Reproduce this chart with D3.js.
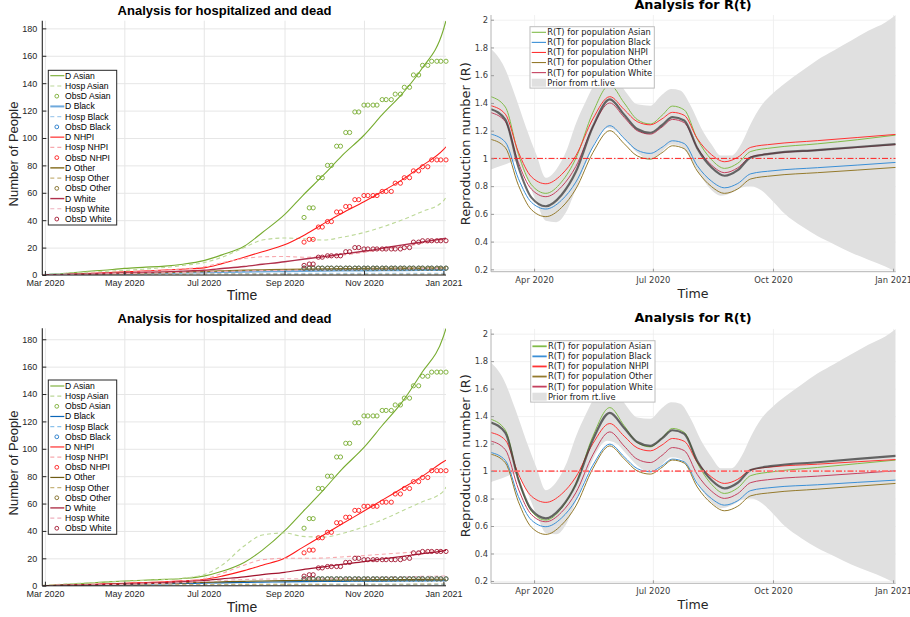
<!DOCTYPE html>
<html>
<head>
<meta charset="utf-8">
<script src="https://cdn.jsdelivr.net/npm/d3@7/dist/d3.min.js"></script>
<style>
  body { margin: 0; background: #fff; }
  svg { display: block; }
  .grid line { stroke: #e6e6e6; stroke-width: 1; }
  .grid path { display: none; }
  .gridR line { stroke: #eeeeee; stroke-width: 0.8; }
  .gridR path { display: none; }
</style>
</head>
<body>
<svg id="chart" width="910" height="617"></svg>
<script>
var startDay = "2020-02-28", endDay = "2021-01-03";

// ---- hospitalized / dead panels ----
var hospDates = ["2020-02-28","2020-03-15","2020-04-01","2020-04-15","2020-05-01","2020-05-15",
  "2020-06-01","2020-06-15","2020-07-01","2020-07-15","2020-08-01","2020-08-15","2020-09-01",
  "2020-09-15","2020-10-01","2020-10-15","2020-11-01","2020-11-15","2020-12-01","2020-12-15",
  "2021-01-01","2021-01-03"];
var hospTicks = ["2020-03-01","2020-05-01","2020-07-01","2020-09-01","2020-11-01","2021-01-01"];
var hospYTicks = [0, 20, 40, 60, 80, 100, 120, 140, 160, 180];

var dAsianTop    = [0, 1, 2.5, 3.5, 4.8, 5.6, 6.5, 7.9, 10.5, 14.7, 21, 31, 44, 58, 73, 87, 102, 117, 133, 150, 179, 185.6];
var hospAsianTop = [0.3, 1.2, 2, 2.6, 3.3, 4.2, 5.5, 7, 9, 13, 20, 25.5, 27, 26.5, 25.5, 27.5, 31, 35, 40.5, 46, 54, 57];
var dBlackTop    = [0, 0.2, 0.4, 0.6, 0.9, 1.1, 1.4, 1.6, 1.9, 2.1, 2.4, 2.6, 2.8, 2.95, 3.1, 3.2, 3.3, 3.4, 3.5, 3.6, 3.7, 3.7];
var hospBlackTop = [0.1, 0.25, 0.4, 0.55, 0.7, 0.8, 0.9, 1, 1.1, 1.15, 1.2, 1.2, 1.2, 1.2, 1.2, 1.2, 1.2, 1.2, 1.2, 1.2, 1.2, 1.2];
var dNhpiTop     = [0, 0.4, 1, 1.6, 2.3, 2.9, 3.6, 4.3, 5.2, 8.3, 13, 17, 22, 28.5, 37.5, 45, 53.5, 61, 70, 79.3, 91.5, 93.6];
var hospNhpiTop  = [0.2, 0.5, 1, 1.4, 2, 2.6, 3.5, 4.5, 6, 9, 12, 13.3, 13.5, 13, 13.2, 14.5, 16.5, 18.5, 20.5, 23, 25.5, 26];
var dOtherTop    = [0, 0.25, 0.5, 0.8, 1.2, 1.5, 1.9, 2.2, 2.6, 3, 3.4, 3.7, 4, 4.2, 4.4, 4.55, 4.7, 4.8, 4.9, 5, 5.1, 5.1];
var hospOtherTop = [0.1, 0.2, 0.3, 0.4, 0.5, 0.55, 0.6, 0.65, 0.7, 0.7, 0.7, 0.65, 0.6, 0.6, 0.6, 0.6, 0.6, 0.6, 0.6, 0.6, 0.6, 0.6];
var dWhiteTop    = [0, 0.3, 0.7, 1.1, 1.5, 1.9, 2.3, 2.8, 3.5, 4.7, 6.2, 7.8, 9.7, 11.5, 13.4, 15.2, 17.3, 19.5, 22, 24, 26.5, 26.8];
var hospWhiteTop = [0.1, 0.3, 0.6, 0.8, 1.1, 1.3, 1.6, 1.9, 2.2, 2.6, 2.9, 3.2, 3.4, 3.6, 3.7, 3.85, 4, 4.2, 4.4, 4.7, 4.9, 5];

var dAsianBot    = [0, 0.8, 1.8, 2.6, 3.4, 4, 4.6, 5.3, 7, 10.5, 17, 26, 40, 54, 70, 85, 101, 117, 135, 155, 182, 188];
var hospAsianBot = [0.3, 1.2, 2, 2.6, 3.2, 3.8, 4.5, 5.5, 8, 15, 29, 37, 38.5, 36, 35.5, 38, 43, 48, 55, 61, 69, 72];
var dBlackBot    = [0, 0.2, 0.4, 0.6, 0.9, 1.1, 1.4, 1.6, 1.9, 2.1, 2.4, 2.6, 2.8, 2.95, 3.1, 3.2, 3.3, 3.4, 3.5, 3.55, 3.6, 3.6];
var hospBlackBot = [0.1, 0.25, 0.4, 0.55, 0.7, 0.85, 1, 1.05, 1.1, 1.1, 1.1, 1.05, 1, 1, 1, 1, 1, 1, 1, 1, 1, 1];
var dNhpiBot     = [0, 0.35, 0.8, 1.3, 1.8, 2.3, 2.8, 3.5, 4.5, 7, 11, 15, 20, 28, 37, 45, 54.5, 62.5, 71.5, 79.5, 90.5, 91.7];
var hospNhpiBot  = [0.2, 0.5, 0.8, 1.1, 1.5, 2, 2.5, 3.5, 5, 9, 15, 19, 20, 20, 20.2, 21, 22, 23, 24, 25, 25.8, 26];
var dOtherBot    = [0, 0.25, 0.5, 0.8, 1.1, 1.4, 1.8, 2.1, 2.5, 2.85, 3.2, 3.45, 3.7, 3.85, 4, 4.15, 4.3, 4.4, 4.5, 4.6, 4.7, 4.7];
var hospOtherBot = [0.1, 0.2, 0.3, 0.4, 0.5, 0.6, 0.7, 0.8, 0.9, 0.95, 1, 1, 1, 1, 1, 1.05, 1.1, 1.1, 1.1, 1.15, 1.2, 1.2];
var dWhiteBot    = [0, 0.3, 0.6, 0.95, 1.3, 1.7, 2.2, 2.9, 3.8, 5, 6.5, 8.1, 9.8, 11.8, 13.8, 15.6, 17.6, 19.5, 21.5, 23.3, 25.5, 25.8];
var hospWhiteBot = [0.1, 0.3, 0.5, 0.75, 1, 1.4, 1.8, 2.3, 3, 3.8, 4.5, 4.8, 5, 5.15, 5.3, 5.5, 5.8, 6.1, 6.4, 6.8, 7.1, 7.2];

// observed deaths (same in both runs)
var obsDates = ["2020-09-16","2020-09-20","2020-09-23","2020-09-27","2020-09-30","2020-10-04",
  "2020-10-07","2020-10-11","2020-10-14","2020-10-18","2020-10-21","2020-10-25","2020-10-28",
  "2020-11-01","2020-11-04","2020-11-08","2020-11-11","2020-11-15","2020-11-18","2020-11-22",
  "2020-11-25","2020-11-29","2020-12-02","2020-12-06","2020-12-09","2020-12-13","2020-12-16",
  "2020-12-20","2020-12-23","2020-12-27","2020-12-30","2021-01-03"];
var obsAsian = [42,49,49,71,71,80,80,94,94,104,104,119,119,124,124,124,124,128,128,128,132,132,137,137,146,146,153,153,156,156,156,156];
var obsBlack = [5,5,5,5,5,5,5,5,5,5,5,5,5,5,5,5,5,5,5,5,5,5,5,5,5,5,5,5,5,5,5,5];
var obsNhpi  = [24,26,26,35,35,39,39,46,46,50,50,55,55,58,58,58,58,61,61,61,67,67,71,71,76,76,79,79,84,84,84,84];
var obsOther = [5,5,5,5,5,5,5,5,5,5,5,5,5,5,5,5,5,5,5,5,5,5,5,5,5,5,5,5,5,5,5,5];
var obsWhite = [7,8,8,13,13,14,14,14,14,17,17,20,20,19,19,19,19,19,19,19,19,19,20,20,24,24,25,25,25,25,25,25];

// ---- R(t) panels ----
var rtDates = ["2020-02-28","2020-03-10","2020-03-20","2020-03-30","2020-04-10","2020-04-22",
  "2020-05-03","2020-05-16","2020-05-29","2020-06-09","2020-06-19","2020-06-29","2020-07-08",
  "2020-07-16","2020-07-25","2020-08-04","2020-08-15","2020-08-25","2020-09-04","2020-09-14",
  "2020-10-01","2020-11-04","2020-12-05","2021-01-03"];
var rtTicks = ["2020-04-01","2020-07-01","2020-10-01","2021-01-01"];
var rtYTicks = [0.2, 0.4, 0.6, 0.8, 1, 1.2, 1.4, 1.6, 1.8, 2];

var rtAsianTop = [1.445,1.37,1.03,0.81,0.748,0.83,1.0,1.33,1.53,1.40,1.28,1.248,1.31,1.377,1.35,1.14,0.99,0.928,0.965,1.05,1.077,1.105,1.135,1.168];
var rtBlackTop = [1.175,1.117,0.854,0.683,0.635,0.698,0.829,1.082,1.236,1.144,1.059,1.036,1.08,1.127,1.107,0.947,0.835,0.788,0.819,0.889,0.911,0.933,0.952,0.971];
var rtNhpiTop  = [1.38,1.319,1.045,0.867,0.817,0.883,1.019,1.284,1.445,1.352,1.265,1.242,1.285,1.332,1.311,1.143,1.026,0.976,1.008,1.08,1.103,1.128,1.151,1.173];
var rtOtherTop = [1.137,1.077,0.806,0.63,0.58,0.645,0.78,1.041,1.20,1.106,1.018,0.995,1.041,1.091,1.07,0.909,0.796,0.748,0.78,0.852,0.875,0.897,0.916,0.935];
var rtWhiteTop = [1.33,1.265,0.969,0.778,0.724,0.795,0.942,1.227,1.40,1.296,1.20,1.175,1.226,1.281,1.258,1.077,0.951,0.897,0.932,1.011,1.036,1.059,1.08,1.10];
var rtMeanTop  = [1.355,1.279,0.938,0.717,0.655,0.736,0.903,1.228,1.425,1.315,1.212,1.185,1.239,1.298,1.273,1.074,0.934,0.875,0.915,1.007,1.036,1.06,1.082,1.103];

var rtAsianBot = [1.377,1.298,0.94,0.708,0.643,0.729,0.907,1.252,1.462,1.33,1.208,1.176,1.24,1.31,1.282,1.06,0.903,0.837,0.877,0.967,0.995,1.026,1.054,1.08];
var rtBlackBot = [1.135,1.077,0.814,0.643,0.595,0.658,0.789,1.042,1.196,1.104,1.018,0.995,1.039,1.087,1.067,0.909,0.799,0.752,0.784,0.858,0.881,0.90,0.918,0.934];
var rtNhpiBot  = [1.28,1.225,0.978,0.817,0.772,0.832,0.957,1.199,1.346,1.254,1.169,1.147,1.19,1.237,1.217,1.064,0.956,0.91,0.94,1.009,1.031,1.05,1.068,1.084];
var rtOtherBot = [1.123,1.06,0.776,0.591,0.539,0.607,0.746,1.018,1.183,1.089,1.001,0.978,1.027,1.08,1.058,0.884,0.763,0.711,0.744,0.82,0.844,0.868,0.89,0.91];
var rtWhiteBot = [1.218,1.155,0.869,0.683,0.631,0.70,0.842,1.118,1.285,1.182,1.087,1.062,1.114,1.171,1.149,0.975,0.853,0.801,0.836,0.916,0.941,0.963,0.983,1.002];
var rtMeanBot  = [1.353,1.278,0.938,0.718,0.656,0.737,0.903,1.227,1.423,1.313,1.211,1.184,1.238,1.297,1.272,1.073,0.933,0.874,0.915,1.008,1.038,1.064,1.088,1.111];

// prior band from rt.live
var bandDates = ["2020-02-28","2020-03-08","2020-03-18","2020-03-26","2020-04-03","2020-04-10",
  "2020-04-18","2020-04-26","2020-05-03","2020-05-11","2020-05-19","2020-05-27","2020-06-03",
  "2020-06-11","2020-06-19","2020-06-29","2020-07-07","2020-07-15","2020-07-22","2020-07-30",
  "2020-08-07","2020-08-15","2020-08-22","2020-08-30","2020-09-07","2020-09-14","2020-09-22",
  "2020-10-01","2020-10-10","2020-10-23","2020-11-04","2020-11-17","2020-11-30","2020-12-13",
  "2020-12-26","2021-01-03"];
var bandUpper = [1.79,1.68,1.44,1.22,1.02,0.86,0.92,1.06,1.25,1.42,1.56,1.62,1.58,1.47,1.39,1.38,1.45,1.50,1.49,1.38,1.22,1.10,1.02,1.02,1.11,1.25,1.38,1.47,1.54,1.63,1.71,1.78,1.85,1.92,1.98,2.034];
var bandLower = [0.92,0.95,0.98,0.86,0.68,0.55,0.54,0.62,0.78,0.97,1.14,1.22,1.20,1.12,1.04,0.99,1.04,1.10,1.09,1.00,0.87,0.77,0.73,0.75,0.79,0.80,0.77,0.69,0.60,0.51,0.44,0.38,0.32,0.27,0.22,0.183];

var parseDay = d3.utcParse("%Y-%m-%d");
var svg = d3.select("#chart");
var clipCount = 0;
var fontL = "'Liberation Sans', Arial, Helvetica, sans-serif";
var fontR = "'DejaVu Sans', Verdana, sans-serif";

function makeClip(x0, y0, w, h) {
  var id = "clip" + (clipCount++);
  svg.append("clipPath").attr("id", id)
    .append("rect").attr("x", x0).attr("y", y0).attr("width", w).attr("height", h);
  return "url(#" + id + ")";
}

function drawHosp(p) {
  var x = d3.scaleUtc().domain([parseDay(startDay), parseDay(endDay)]).range([p.left, p.right]);
  var yMax = d3.max(p.series, function (s) { return d3.max(s.values); });
  var y = d3.scaleLinear().domain([0, yMax]).range([p.bottom, p.top]);
  var dates = hospDates.map(parseDay);
  var oDates = obsDates.map(parseDay);
  var g = svg.append("g");

  g.append("g").attr("class", "grid")
    .attr("transform", "translate(0," + p.bottom + ")")
    .call(d3.axisBottom(x).tickValues(hospTicks.map(parseDay)).tickSize(-(p.bottom - p.top)).tickFormat(""));
  g.append("g").attr("class", "grid")
    .attr("transform", "translate(" + p.left + ",0)")
    .call(d3.axisLeft(y).tickValues(hospYTicks).tickSize(-(p.right - p.left)).tickFormat(""));

  var plot = g.append("g").attr("clip-path", makeClip(p.left, p.top, p.right - p.left, p.bottom - p.top));
  var line = d3.line().curve(d3.curveMonotoneX)
    .x(function (d) { return x(d[0]); })
    .y(function (d) { return y(d[1]); });

  p.series.forEach(function (s) {
    if (s.kind === "obs") {
      g.append("g").selectAll("circle")
        .data(d3.zip(oDates, s.values))
        .enter().append("circle")
        .attr("cx", function (d) { return x(d[0]); })
        .attr("cy", function (d) { return y(d[1]); })
        .attr("r", 2.1)
        .attr("fill", "none")
        .attr("stroke", s.color)
        .attr("stroke-width", 0.9);
    } else {
      plot.append("path")
        .datum(d3.zip(dates, s.values))
        .attr("d", line)
        .attr("fill", "none")
        .attr("stroke", s.color)
        .attr("stroke-width", s.width)
        .attr("stroke-dasharray", s.kind === "dash" ? "4,3" : null);
    }
  });

  // axes
  var xAxisG = g.append("g")
    .attr("transform", "translate(0," + p.bottom + ")")
    .call(d3.axisBottom(x).tickValues(hospTicks.map(parseDay)).tickFormat(d3.utcFormat("%b %Y"))
      .tickSizeInner(-4).tickSizeOuter(0).tickPadding(5));
  var yAxisG = g.append("g")
    .attr("transform", "translate(" + p.left + ",0)")
    .call(d3.axisLeft(y).tickValues(hospYTicks).tickSizeInner(-4).tickSizeOuter(0).tickPadding(5));
  [xAxisG, yAxisG].forEach(function (a) {
    a.attr("font-family", fontL).attr("font-size", 9).style("color", "#262626");
    a.select(".domain").attr("stroke-width", 1.1);
  });
  xAxisG.select(".domain").attr("d", "M" + p.left + ",0H" + p.right);
  yAxisG.select(".domain").attr("d", "M0," + p.bottom + "V" + p.top);

  g.append("text").attr("x", 224.5).attr("y", p.titleY)
    .attr("text-anchor", "middle").attr("font-family", fontL).attr("font-weight", "bold")
    .attr("font-size", 13).attr("fill", "#000").text("Analysis for hospitalized and dead");
  g.append("text").attr("x", 242).attr("y", p.timeY)
    .attr("text-anchor", "middle").attr("font-family", fontL).attr("font-size", 14)
    .attr("fill", "#262626").text("Time");
  g.append("text").attr("transform", "translate(18," + p.yLabelY + ") rotate(-90)")
    .attr("text-anchor", "middle").attr("font-family", fontL).attr("font-size", 13)
    .attr("fill", "#262626").text("Number of People");

  // legend
  var lg = g.append("g");
  lg.append("rect").attr("x", p.legX).attr("y", p.legY).attr("width", 68.4).attr("height", p.legH)
    .attr("fill", "#fff").attr("stroke", "#262626").attr("stroke-width", 1);
  p.series.forEach(function (s, i) {
    var cy = p.legY + p.legOff + i * p.legStep;
    if (s.kind === "obs") {
      lg.append("circle").attr("cx", p.legX + 8.5).attr("cy", cy).attr("r", 1.9)
        .attr("fill", "none").attr("stroke", s.color).attr("stroke-width", 0.9);
    } else {
      lg.append("line").attr("x1", p.legX + 2).attr("x2", p.legX + 16).attr("y1", cy).attr("y2", cy)
        .attr("stroke", s.color).attr("stroke-width", s.width)
        .attr("stroke-dasharray", s.kind === "dash" ? "4,3" : null);
    }
    lg.append("text").attr("x", p.legX + 16.8).attr("y", cy).attr("dy", "0.35em")
      .attr("font-family", fontL).attr("font-size", 8.6).attr("fill", "#000").text(s.label);
  });
}

function drawRt(p) {
  var x = d3.scaleUtc().domain([parseDay(startDay), parseDay(endDay)]).range([p.left, p.right]);
  var y = d3.scaleLinear()
    .domain([d3.min(bandLower), d3.max(bandUpper)])
    .range([p.bottom, p.top]);
  var dates = rtDates.map(parseDay);
  var bDates = bandDates.map(parseDay);
  var g = svg.append("g");

  g.append("g").attr("class", "gridR")
    .attr("transform", "translate(0," + p.bottom + ")")
    .call(d3.axisBottom(x).tickValues(rtTicks.map(parseDay)).tickSize(-(p.bottom - p.top)).tickFormat(""));
  g.append("g").attr("class", "gridR")
    .attr("transform", "translate(" + p.left + ",0)")
    .call(d3.axisLeft(y).tickValues(rtYTicks).tickSize(-(p.right - p.left)).tickFormat(""));

  var plot = g.append("g").attr("clip-path", makeClip(p.left, p.top, p.right - p.left, p.bottom - p.top));
  var area = d3.area().curve(d3.curveMonotoneX)
    .x(function (d) { return x(d[0]); })
    .y0(function (d) { return y(d[1]); })
    .y1(function (d) { return y(d[2]); });
  plot.append("path")
    .datum(d3.zip(bDates, bandLower, bandUpper))
    .attr("d", area)
    .attr("fill", "#e0e0e0");

  var line = d3.line().curve(d3.curveMonotoneX)
    .x(function (d) { return x(d[0]); })
    .y(function (d) { return y(d[1]); });
  p.series.forEach(function (s) {
    plot.append("path")
      .datum(d3.zip(dates, s.values))
      .attr("d", line)
      .attr("fill", "none")
      .attr("stroke", s.color)
      .attr("stroke-width", s.width)
      .attr("stroke-opacity", s.opacity || 1);
  });

  plot.append("line")
    .attr("x1", p.left).attr("x2", p.right)
    .attr("y1", y(1)).attr("y2", y(1))
    .attr("stroke", p.refColor).attr("stroke-width", p.refWidth)
    .attr("stroke-dasharray", "6,2,1.5,2");

  var xAxisG = g.append("g")
    .attr("transform", "translate(0," + p.bottom + ")")
    .call(d3.axisBottom(x).tickValues(rtTicks.map(parseDay)).tickFormat(d3.utcFormat("%b %Y"))
      .tickSizeInner(-3).tickSizeOuter(0).tickPadding(5));
  var yAxisG = g.append("g")
    .attr("transform", "translate(" + p.left + ",0)")
    .call(d3.axisLeft(y).tickValues(rtYTicks).tickFormat(function (d) { return String(+d.toFixed(1)); })
      .tickSizeInner(-3).tickSizeOuter(0).tickPadding(3));
  [xAxisG, yAxisG].forEach(function (a) {
    a.attr("font-family", fontR).attr("font-size", 8.4).style("color", "#3a3a3a");
    a.select(".domain").attr("stroke", "#b4b4b4");
    a.selectAll(".tick line").attr("stroke", "#9a9a9a");
  });
  xAxisG.select(".domain").attr("d", "M" + p.left + ",0H" + p.right);
  yAxisG.select(".domain").attr("d", "M0," + p.bottom + "V" + p.top);

  g.append("text").attr("x", 693).attr("y", p.titleY)
    .attr("text-anchor", "middle").attr("font-family", fontR).attr("font-weight", "bold")
    .attr("font-size", 12.8).attr("fill", "#000").text("Analysis for R(t)");
  g.append("text").attr("x", 693).attr("y", p.timeY)
    .attr("text-anchor", "middle").attr("font-family", fontR).attr("font-size", 12.6)
    .attr("fill", "#262626").text("Time");
  g.append("text").attr("transform", "translate(470," + p.yLabelY + ") rotate(-90)")
    .attr("text-anchor", "middle").attr("font-family", fontR).attr("font-size", 12.9)
    .attr("fill", "#262626").text("Reproduction number (R)");

  var lg = g.append("g");
  lg.append("rect").attr("x", p.legX).attr("y", p.legY).attr("width", 124.3).attr("height", 61.4)
    .attr("fill", "#fff").attr("stroke", "#bcbcbc").attr("stroke-width", 1);
  var entries = p.series.filter(function (s) { return s.label; });
  entries.forEach(function (s, i) {
    var cy = p.legY + 5.6 + i * 10.08;
    lg.append("line").attr("x1", p.legX + 1.7).attr("x2", p.legX + 16).attr("y1", cy).attr("y2", cy)
      .attr("stroke", s.color).attr("stroke-width", p.legLineWidth);
    lg.append("text").attr("x", p.legX + 17.3).attr("y", cy).attr("dy", "0.35em")
      .attr("font-family", fontR).attr("font-size", 8.3).attr("fill", "#1a1a1a").text(s.label);
  });
  var cyB = p.legY + 5.6 + entries.length * 10.08;
  lg.append("rect").attr("x", p.legX + 1.7).attr("y", cyB - 4).attr("width", 14.3).attr("height", 8)
    .attr("fill", "#e0e0e0");
  lg.append("text").attr("x", p.legX + 17.3).attr("y", cyB).attr("dy", "0.35em")
    .attr("font-family", fontR).attr("font-size", 8.3).attr("fill", "#1a1a1a").text("Prior from rt.live");
}

drawHosp({
  left: 42.3, right: 446, top: 20.7, bottom: 275,
  titleY: 15, timeY: 300, yLabelY: 154,
  legX: 48.3, legY: 70.3, legH: 154.7, legOff: 5.4, legStep: 10.24,
  series: [
    { label: "D Asian", kind: "line", values: dAsianTop, color: "#77ac30", width: 1.1 },
    { label: "Hosp Asian", kind: "dash", values: hospAsianTop, color: "#bcd897", width: 1.1 },
    { label: "ObsD Asian", kind: "obs", values: obsAsian, color: "#77ac30" },
    { label: "D Black", kind: "line", values: dBlackTop, color: "#6ea9dc", width: 2 },
    { label: "Hosp Black", kind: "dash", values: hospBlackTop, color: "#a6cdee", width: 1.1 },
    { label: "ObsD Black", kind: "obs", values: obsBlack, color: "#1f77c8" },
    { label: "D NHPI", kind: "line", values: dNhpiTop, color: "#ff1a1a", width: 1.1 },
    { label: "Hosp NHPI", kind: "dash", values: hospNhpiTop, color: "#f7a9ae", width: 1.1 },
    { label: "ObsD NHPI", kind: "obs", values: obsNhpi, color: "#ff1a1a" },
    { label: "D Other", kind: "line", values: dOtherTop, color: "#8a7428", width: 1.5 },
    { label: "Hosp Other", kind: "dash", values: hospOtherTop, color: "#c7b47c", width: 1.1 },
    { label: "ObsD Other", kind: "obs", values: obsOther, color: "#7e6a22" },
    { label: "D White", kind: "line", values: dWhiteTop, color: "#b0304c", width: 1.4 },
    { label: "Hosp White", kind: "dash", values: hospWhiteTop, color: "#eeb0bd", width: 1.1 },
    { label: "ObsD White", kind: "obs", values: obsWhite, color: "#a2142f" }
  ]
});

drawHosp({
  left: 42.3, right: 446, top: 328.3, bottom: 585.7,
  titleY: 323, timeY: 612, yLabelY: 463,
  legX: 48.3, legY: 380, legH: 154.3, legOff: 6, legStep: 10.16,
  series: [
    { label: "D Asian", kind: "line", values: dAsianBot, color: "#77ac30", width: 1.1 },
    { label: "Hosp Asian", kind: "dash", values: hospAsianBot, color: "#bcd897", width: 1.1 },
    { label: "ObsD Asian", kind: "obs", values: obsAsian, color: "#77ac30" },
    { label: "D Black", kind: "line", values: dBlackBot, color: "#0b66b8", width: 1.2 },
    { label: "Hosp Black", kind: "dash", values: hospBlackBot, color: "#8cc2ec", width: 1.1 },
    { label: "ObsD Black", kind: "obs", values: obsBlack, color: "#1f77c8" },
    { label: "D NHPI", kind: "line", values: dNhpiBot, color: "#ff1a1a", width: 1.1 },
    { label: "Hosp NHPI", kind: "dash", values: hospNhpiBot, color: "#f7a9ae", width: 1.1 },
    { label: "ObsD NHPI", kind: "obs", values: obsNhpi, color: "#ff1a1a" },
    { label: "D Other", kind: "line", values: dOtherBot, color: "#6e5c14", width: 1.2 },
    { label: "Hosp Other", kind: "dash", values: hospOtherBot, color: "#c7b47c", width: 1.1 },
    { label: "ObsD Other", kind: "obs", values: obsOther, color: "#7e6a22" },
    { label: "D White", kind: "line", values: dWhiteBot, color: "#a2142f", width: 1.2 },
    { label: "Hosp White", kind: "dash", values: hospWhiteBot, color: "#eeb0bd", width: 1.1 },
    { label: "ObsD White", kind: "obs", values: obsWhite, color: "#a2142f" }
  ]
});

drawRt({
  left: 491, right: 895.7, top: 15, bottom: 271.7,
  titleY: 9, timeY: 298, yLabelY: 143.7,
  legX: 530, legY: 26.7, legLineWidth: 1.1,
  refColor: "#ff2020", refWidth: 1,
  series: [
    { label: "R(T) for population Asian", values: rtAsianTop, color: "#80bb48", width: 1 },
    { label: "R(T) for population Black", values: rtBlackTop, color: "#3a8fd6", width: 1 },
    { label: "R(T) for population NHPI", values: rtNhpiTop, color: "#ff3333", width: 1 },
    { label: "R(T) for population Other", values: rtOtherTop, color: "#947a2c", width: 1 },
    { label: "R(T) for population White", values: rtWhiteTop, color: "#c4405e", width: 1 },
    { label: null, values: rtMeanTop, color: "#3a3a3a", width: 2.2, opacity: 0.75 }
  ]
});

drawRt({
  left: 491, right: 895.7, top: 329, bottom: 583.3,
  titleY: 322, timeY: 609, yLabelY: 455.8,
  legX: 530.7, legY: 340.7, legLineWidth: 1.8,
  refColor: "#ff6a6a", refWidth: 1.8,
  series: [
    { label: "R(T) for population Asian", values: rtAsianBot, color: "#80bb48", width: 1 },
    { label: "R(T) for population Black", values: rtBlackBot, color: "#3a8fd6", width: 1 },
    { label: "R(T) for population NHPI", values: rtNhpiBot, color: "#ff3333", width: 1 },
    { label: "R(T) for population Other", values: rtOtherBot, color: "#947a2c", width: 1 },
    { label: "R(T) for population White", values: rtWhiteBot, color: "#c4405e", width: 1 },
    { label: null, values: rtMeanBot, color: "#3a3a3a", width: 2.2, opacity: 0.75 }
  ]
});
</script>
</body>
</html>
